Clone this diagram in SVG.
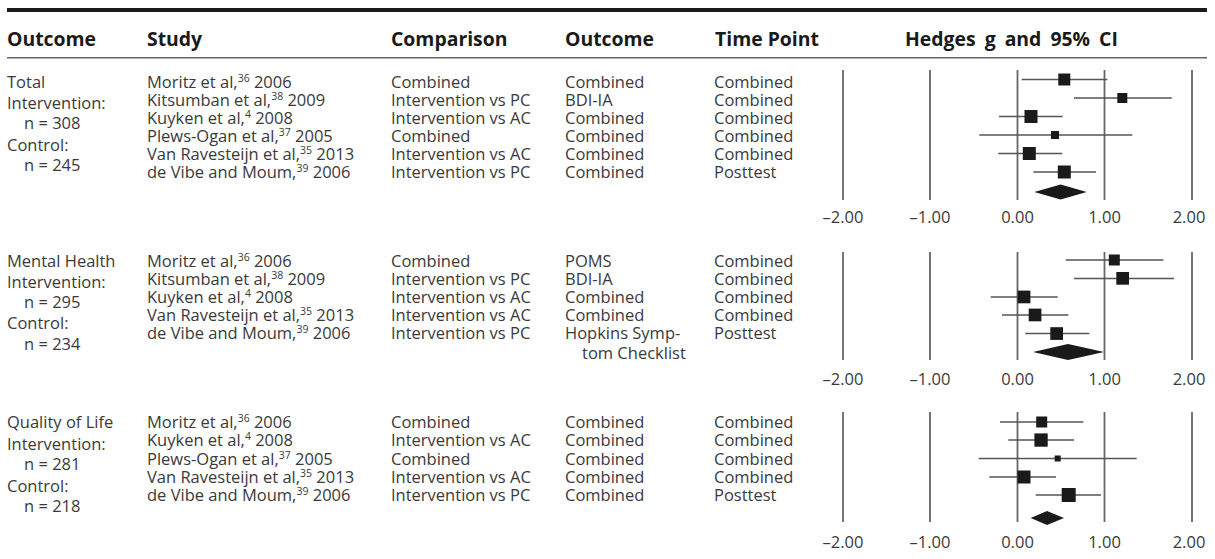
<svg xmlns="http://www.w3.org/2000/svg" width="1215" height="559" viewBox="0 0 1215 559">
  <style>
    .hd { font-family: "Open Sans", "Liberation Sans", sans-serif; font-weight: bold; font-size: 19.4px; fill: #1a1a1a; }
    .tx { font-family: "Open Sans", "Liberation Sans", sans-serif; font-size: 16.5px; fill: #3a3a3a; }
    .sup { font-size: 10.5px; }
    .ax { font-family: "Open Sans", "Liberation Sans", sans-serif; font-size: 16.5px; fill: #3a3a3a; text-anchor: middle; }
    .grid { stroke: #666; stroke-width: 1.8; }
    .ci { stroke: #555; stroke-width: 1.5; }
    .pt { fill: #1a1a1a; }
  </style>

  <!-- table rules -->
  <rect x="7" y="8" width="1200" height="4" fill="#1a1a1a"/>
  <rect x="7" y="57" width="1200" height="1.5" fill="#666"/>

  <!-- column headings -->
  <g id="header">
    <text class="hd" x="7" y="45.5">Outcome</text>
    <text class="hd" x="147" y="45.5">Study</text>
    <text class="hd" x="391" y="45.5">Comparison</text>
    <text class="hd" x="565" y="45.5">Outcome</text>
    <text class="hd" x="715" y="45.5">Time Point</text>
    <text class="hd" x="905" y="45.5" word-spacing="4">Hedges g and 95% CI</text>
  </g>

  <!-- Total -->
  <g id="block-total">
    <text class="tx" x="7" y="87.5">Total</text>
    <text class="tx" x="7" y="108.5">Intervention:</text>
    <text class="tx" x="24" y="128.5">n = 308</text>
    <text class="tx" x="7" y="150.5">Control:</text>
    <text class="tx" x="24" y="171">n = 245</text>

    <text class="tx" x="147" y="87.5">Moritz et al,<tspan class="sup" dy="-6">36</tspan><tspan dy="6"> 2006</tspan></text>
    <text class="tx" x="147" y="105.7">Kitsumban et al,<tspan class="sup" dy="-6">38</tspan><tspan dy="6"> 2009</tspan></text>
    <text class="tx" x="147" y="124">Kuyken et al,<tspan class="sup" dy="-6">4</tspan><tspan dy="6"> 2008</tspan></text>
    <text class="tx" x="147" y="142">Plews-Ogan et al,<tspan class="sup" dy="-6">37</tspan><tspan dy="6"> 2005</tspan></text>
    <text class="tx" x="147" y="160.2">Van Ravesteijn et al,<tspan class="sup" dy="-6">35</tspan><tspan dy="6"> 2013</tspan></text>
    <text class="tx" x="147" y="178.3">de Vibe and Moum,<tspan class="sup" dy="-6">39</tspan><tspan dy="6"> 2006</tspan></text>

    <text class="tx" x="391" y="87.5">Combined</text>
    <text class="tx" x="391" y="105.7">Intervention vs PC</text>
    <text class="tx" x="391" y="124">Intervention vs AC</text>
    <text class="tx" x="391" y="142">Combined</text>
    <text class="tx" x="391" y="160.2">Intervention vs AC</text>
    <text class="tx" x="391" y="178.3">Intervention vs PC</text>

    <text class="tx" x="565" y="87.5">Combined</text>
    <text class="tx" x="565" y="105.7">BDI-IA</text>
    <text class="tx" x="565" y="124">Combined</text>
    <text class="tx" x="565" y="142">Combined</text>
    <text class="tx" x="565" y="160.2">Combined</text>
    <text class="tx" x="565" y="178.3">Combined</text>

    <text class="tx" x="714" y="87.5">Combined</text>
    <text class="tx" x="714" y="105.7">Combined</text>
    <text class="tx" x="714" y="124">Combined</text>
    <text class="tx" x="714" y="142">Combined</text>
    <text class="tx" x="714" y="160.2">Combined</text>
    <text class="tx" x="714" y="178.3">Posttest</text>

    <g id="plot-total">
      <line class="grid" x1="843" y1="70" x2="843" y2="200"/>
      <line class="grid" x1="930" y1="70" x2="930" y2="200"/>
      <line class="grid" x1="1017.5" y1="70" x2="1017.5" y2="200"/>
      <line class="grid" x1="1104.5" y1="70" x2="1104.5" y2="200"/>
      <line class="grid" x1="1192" y1="70" x2="1192" y2="200"/>

      <line class="ci" x1="1021.7" y1="79.5" x2="1107.3" y2="79.5"/>
      <rect class="pt" x="1058.3" y="73.5" width="12" height="12"/>
      <line class="ci" x1="1074" y1="98" x2="1171.7" y2="98"/>
      <rect class="pt" x="1117.3" y="93" width="10" height="10"/>
      <line class="ci" x1="999" y1="116.5" x2="1062.7" y2="116.5"/>
      <rect class="pt" x="1024.5" y="110" width="13" height="13"/>
      <line class="ci" x1="979.3" y1="135" x2="1132.3" y2="135"/>
      <rect class="pt" x="1051" y="131" width="8" height="8"/>
      <line class="ci" x1="998.3" y1="153.5" x2="1062.3" y2="153.5"/>
      <rect class="pt" x="1022.8" y="147" width="13" height="13"/>
      <line class="ci" x1="1033.3" y1="172" x2="1096" y2="172"/>
      <rect class="pt" x="1057.8" y="165.5" width="13" height="13"/>
      <polygon class="pt" points="1034.3,192 1060.7,184.5 1086.7,192 1060.7,199.5"/>

      <text class="ax" x="843" y="223">–2.00</text>
      <text class="ax" x="930" y="223">–1.00</text>
      <text class="ax" x="1017.5" y="223">0.00</text>
      <text class="ax" x="1104.5" y="223">1.00</text>
      <text class="ax" x="1189" y="223">2.00</text>
    </g>
  </g>

  <!-- Mental Health -->
  <g id="block-mental-health">
    <text class="tx" x="7" y="266.5">Mental Health</text>
    <text class="tx" x="7" y="287.5">Intervention:</text>
    <text class="tx" x="24" y="307.5">n = 295</text>
    <text class="tx" x="7" y="329">Control:</text>
    <text class="tx" x="24" y="350">n = 234</text>

    <text class="tx" x="147" y="266.5">Moritz et al,<tspan class="sup" dy="-6">36</tspan><tspan dy="6"> 2006</tspan></text>
    <text class="tx" x="147" y="284.7">Kitsumban et al,<tspan class="sup" dy="-6">38</tspan><tspan dy="6"> 2009</tspan></text>
    <text class="tx" x="147" y="303">Kuyken et al,<tspan class="sup" dy="-6">4</tspan><tspan dy="6"> 2008</tspan></text>
    <text class="tx" x="147" y="321.2">Van Ravesteijn et al,<tspan class="sup" dy="-6">35</tspan><tspan dy="6"> 2013</tspan></text>
    <text class="tx" x="147" y="339.4">de Vibe and Moum,<tspan class="sup" dy="-6">39</tspan><tspan dy="6"> 2006</tspan></text>

    <text class="tx" x="391" y="266.5">Combined</text>
    <text class="tx" x="391" y="284.7">Intervention vs PC</text>
    <text class="tx" x="391" y="303">Intervention vs AC</text>
    <text class="tx" x="391" y="321.2">Intervention vs AC</text>
    <text class="tx" x="391" y="339.4">Intervention vs PC</text>

    <text class="tx" x="565" y="266.5">POMS</text>
    <text class="tx" x="565" y="284.7">BDI-IA</text>
    <text class="tx" x="565" y="303">Combined</text>
    <text class="tx" x="565" y="321.2">Combined</text>
    <text class="tx" x="565" y="339.4">Hopkins Symp-</text>
    <text class="tx" x="582" y="358.5">tom Checklist</text>

    <text class="tx" x="714" y="266.5">Combined</text>
    <text class="tx" x="714" y="284.7">Combined</text>
    <text class="tx" x="714" y="303">Combined</text>
    <text class="tx" x="714" y="321.2">Combined</text>
    <text class="tx" x="714" y="339.4">Posttest</text>

    <g id="plot-mental-health">
      <line class="grid" x1="843" y1="252" x2="843" y2="360"/>
      <line class="grid" x1="930" y1="252" x2="930" y2="360"/>
      <line class="grid" x1="1017.5" y1="252" x2="1017.5" y2="360"/>
      <line class="grid" x1="1104.5" y1="252" x2="1104.5" y2="360"/>
      <line class="grid" x1="1192" y1="252" x2="1192" y2="360"/>

      <line class="ci" x1="1065.7" y1="260" x2="1163.3" y2="260"/>
      <rect class="pt" x="1108.8" y="254.5" width="11" height="11"/>
      <line class="ci" x1="1074" y1="278.5" x2="1174" y2="278.5"/>
      <rect class="pt" x="1116.3" y="272" width="12.7" height="12.7"/>
      <line class="ci" x1="990.7" y1="297" x2="1057.7" y2="297"/>
      <rect class="pt" x="1017.7" y="290.6" width="12.7" height="12.7"/>
      <line class="ci" x1="1002" y1="315" x2="1068.3" y2="315"/>
      <rect class="pt" x="1028.7" y="308.6" width="12.7" height="12.7"/>
      <line class="ci" x1="1025.3" y1="333.5" x2="1089.3" y2="333.5"/>
      <rect class="pt" x="1050.3" y="327.2" width="12.7" height="12.7"/>
      <polygon class="pt" points="1033,352 1068,344 1104,352 1068,360"/>

      <text class="ax" x="843" y="385">–2.00</text>
      <text class="ax" x="930" y="385">–1.00</text>
      <text class="ax" x="1017.5" y="385">0.00</text>
      <text class="ax" x="1104.5" y="385">1.00</text>
      <text class="ax" x="1189" y="385">2.00</text>
    </g>
  </g>

  <!-- Quality of Life -->
  <g id="block-quality-of-life">
    <text class="tx" x="7" y="428">Quality of Life</text>
    <text class="tx" x="7" y="449.5">Intervention:</text>
    <text class="tx" x="24" y="470">n = 281</text>
    <text class="tx" x="7" y="491.5">Control:</text>
    <text class="tx" x="24" y="512">n = 218</text>

    <text class="tx" x="147" y="428">Moritz et al,<tspan class="sup" dy="-6">36</tspan><tspan dy="6"> 2006</tspan></text>
    <text class="tx" x="147" y="446.3">Kuyken et al,<tspan class="sup" dy="-6">4</tspan><tspan dy="6"> 2008</tspan></text>
    <text class="tx" x="147" y="464.6">Plews-Ogan et al,<tspan class="sup" dy="-6">37</tspan><tspan dy="6"> 2005</tspan></text>
    <text class="tx" x="147" y="482.9">Van Ravesteijn et al,<tspan class="sup" dy="-6">35</tspan><tspan dy="6"> 2013</tspan></text>
    <text class="tx" x="147" y="501.2">de Vibe and Moum,<tspan class="sup" dy="-6">39</tspan><tspan dy="6"> 2006</tspan></text>

    <text class="tx" x="391" y="428">Combined</text>
    <text class="tx" x="391" y="446.3">Intervention vs AC</text>
    <text class="tx" x="391" y="464.6">Combined</text>
    <text class="tx" x="391" y="482.9">Intervention vs AC</text>
    <text class="tx" x="391" y="501.2">Intervention vs PC</text>

    <text class="tx" x="565" y="428">Combined</text>
    <text class="tx" x="565" y="446.3">Combined</text>
    <text class="tx" x="565" y="464.6">Combined</text>
    <text class="tx" x="565" y="482.9">Combined</text>
    <text class="tx" x="565" y="501.2">Combined</text>

    <text class="tx" x="714" y="428">Combined</text>
    <text class="tx" x="714" y="446.3">Combined</text>
    <text class="tx" x="714" y="464.6">Combined</text>
    <text class="tx" x="714" y="482.9">Combined</text>
    <text class="tx" x="714" y="501.2">Posttest</text>

    <g id="plot-quality-of-life">
      <line class="grid" x1="843" y1="412" x2="843" y2="522"/>
      <line class="grid" x1="930" y1="412" x2="930" y2="522"/>
      <line class="grid" x1="1017.5" y1="412" x2="1017.5" y2="522"/>
      <line class="grid" x1="1104.5" y1="412" x2="1104.5" y2="522"/>
      <line class="grid" x1="1192" y1="412" x2="1192" y2="522"/>

      <line class="ci" x1="1000" y1="422" x2="1083.3" y2="422"/>
      <rect class="pt" x="1036.2" y="416.5" width="11" height="11"/>
      <line class="ci" x1="1008.3" y1="440" x2="1074" y2="440"/>
      <rect class="pt" x="1034.4" y="433.4" width="13.3" height="13.3"/>
      <line class="ci" x1="978.7" y1="458.5" x2="1136.7" y2="458.5"/>
      <rect class="pt" x="1054.7" y="455.5" width="6" height="6"/>
      <line class="ci" x1="989.3" y1="477" x2="1056" y2="477"/>
      <rect class="pt" x="1017.5" y="470.5" width="13" height="13"/>
      <line class="ci" x1="1035.7" y1="495" x2="1101" y2="495"/>
      <rect class="pt" x="1061.7" y="488" width="14" height="14"/>
      <polygon class="pt" points="1030.7,518 1047,511 1064,518 1047,525"/>

      <text class="ax" x="843" y="548">–2.00</text>
      <text class="ax" x="930" y="548">–1.00</text>
      <text class="ax" x="1017.5" y="548">0.00</text>
      <text class="ax" x="1104.5" y="548">1.00</text>
      <text class="ax" x="1189" y="548">2.00</text>
    </g>
  </g>
</svg>
